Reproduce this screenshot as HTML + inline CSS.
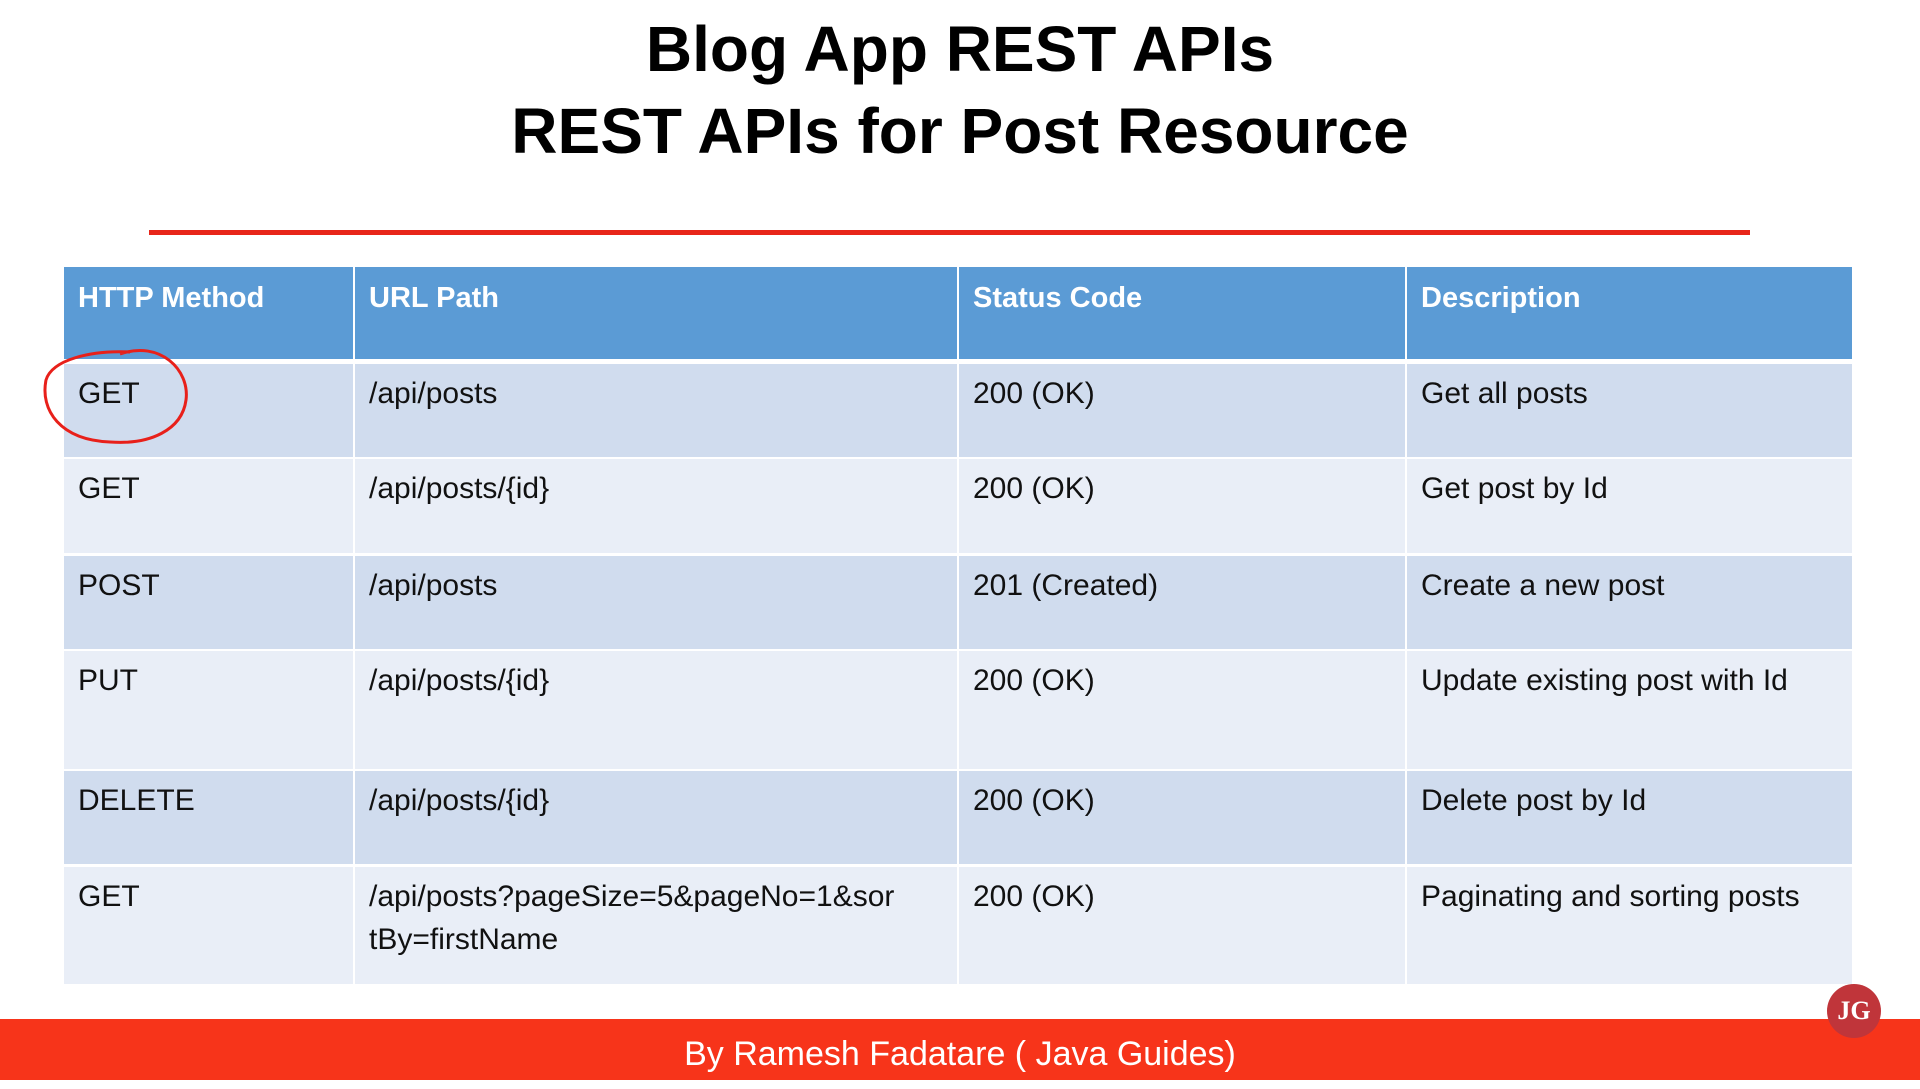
<!DOCTYPE html>
<html><head><meta charset="utf-8"><style>
body{margin:0;width:1920px;height:1080px;background:#fff;position:relative;overflow:hidden;font-family:"Liberation Sans",sans-serif}
.t{position:absolute;left:0;width:1920px;text-align:center;font-weight:bold;font-size:64px;color:#000}
.c{position:absolute;box-sizing:border-box;padding:8px 0 0 14px;font-size:30px;color:#111;line-height:43px}
.h{background:#5b9bd5;color:#fff;font-weight:bold;padding-top:10px;font-size:29px}
.a{background:#d0dcee}.b{background:#e9eef7}
</style></head><body>
<div class="t" style="top:12px">Blog App REST APIs</div>
<div class="t" style="top:94px">REST APIs for Post Resource</div>
<div style="position:absolute;left:149px;top:230px;width:1601px;height:5px;background:#e8261a"></div>
<div id="tbl"></div>
<div style="position:absolute;left:0;top:1019px;width:1920px;height:61px;background:#f7341a;color:#fff;font-size:34px;text-align:center;line-height:70px">By Ramesh Fadatare ( Java Guides)</div>
<div style="position:absolute;left:1827px;top:984px;width:54px;height:54px;border-radius:50%;background:#c0353a;color:#fff;font-size:26px;font-weight:bold;text-align:center;line-height:54px;font-family:'Liberation Serif',serif">JG</div>
<svg style="position:absolute;left:0;top:0" width="1920" height="1080"><path d="M120 354 C160 340 190 370 186 400 C182 430 150 445 110 442 C60 440 40 410 46 380 C52 360 90 350 130 352" fill="none" stroke="#e8201a" stroke-width="3"/></svg>
<script>
const cols=[64,355,959,1407,1854];
const rows=[[267,359],[364,457],[459,553],[556,649],[651,769],[771,864],[867,984]];
const data=[["HTTP Method","URL Path","Status Code","Description"],
["GET","/api/posts","200 (OK)","Get all posts"],
["GET","/api/posts/{id}","200 (OK)","Get post by Id"],
["POST","/api/posts","201 (Created)","Create a new post"],
["PUT","/api/posts/{id}","200 (OK)","Update existing post with Id"],
["DELETE","/api/posts/{id}","200 (OK)","Delete post by Id"],
["GET","/api/posts?pageSize=5&amp;pageNo=1&amp;sor<br>tBy=firstName","200 (OK)","Paginating and sorting posts"]];
let s="";
rows.forEach((r,i)=>{for(let j=0;j<4;j++){const cls=i==0?"h":(i%2?"a":"b");
s+=`<div class="c ${cls}" style="left:${cols[j]}px;top:${r[0]}px;width:${cols[j+1]-cols[j]-2}px;height:${r[1]-r[0]}px">${data[i][j]}</div>`;}});
document.getElementById("tbl").innerHTML=s;
</script>
</body></html>
